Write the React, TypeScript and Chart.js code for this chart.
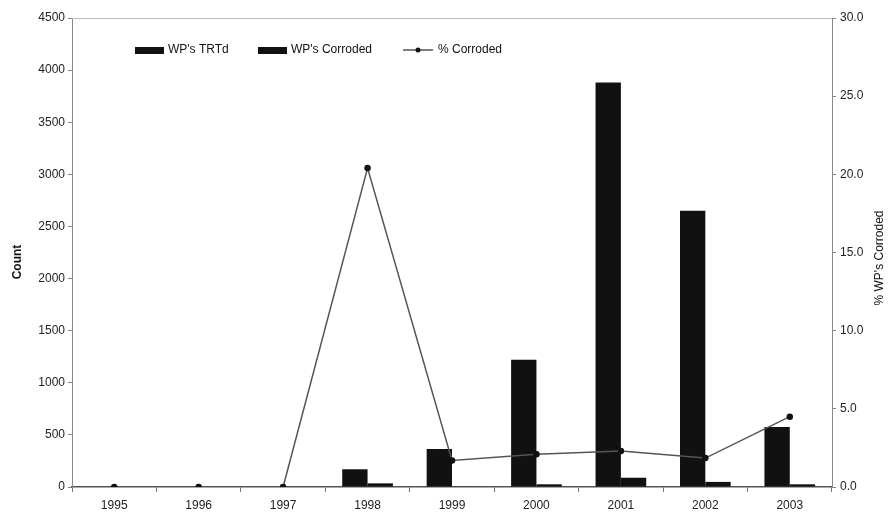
import React, { useEffect, useRef } from "react";
import { Chart, registerables } from "chart.js";

Chart.register(...registerables);

const years = ["1995", "1996", "1997", "1998", "1999", "2000", "2001", "2002", "2003"];
const wpTreated = [0, 0, 0, 170, 365, 1220, 3880, 2650, 575];
const wpCorroded = [0, 0, 0, 35, 6, 26, 89, 49, 26];
const pctCorroded = [0, 0, 0, 20.4, 1.7, 2.1, 2.3, 1.85, 4.5];

const FONT = "'Liberation Sans', Arial, sans-serif";

const overlayPlugin = {
  id: "overlay",
  afterDraw(chart: any) {
    const ctx = chart.ctx;
    const ca = chart.chartArea;
    ctx.save();
    // top border
    ctx.strokeStyle = "#bbb";
    ctx.lineWidth = 1;
    ctx.beginPath();
    ctx.moveTo(ca.left, ca.top + 0.5);
    ctx.lineTo(ca.right, ca.top + 0.5);
    ctx.stroke();

    // axis titles
    ctx.fillStyle = "#111";
    ctx.font = `bold 12px ${FONT}`;
    ctx.textAlign = "center";
    ctx.textBaseline = "middle";
    ctx.save();
    ctx.translate(18, 262);
    ctx.rotate(-Math.PI / 2);
    ctx.fillText("Count", 0, 0);
    ctx.restore();
    ctx.save();
    ctx.font = `12px ${FONT}`;
    ctx.translate(880, 258);
    ctx.rotate(-Math.PI / 2);
    ctx.fillText("% WP's Corroded", 0, 0);
    ctx.restore();

    // legend
    const ly = 50;
    ctx.font = `12px ${FONT}`;
    ctx.textAlign = "left";
    ctx.fillStyle = "#111";
    ctx.fillRect(135, ly - 3, 29, 7);
    ctx.fillText("WP's TRTd", 168, ly);
    ctx.fillRect(258, ly - 3, 29, 7);
    ctx.fillText("WP's Corroded", 291, ly);
    ctx.strokeStyle = "#555";
    ctx.lineWidth = 1.5;
    ctx.beginPath();
    ctx.moveTo(403, ly);
    ctx.lineTo(433, ly);
    ctx.stroke();
    ctx.beginPath();
    ctx.arc(418, ly, 2.5, 0, Math.PI * 2);
    ctx.fill();
    ctx.fillText("% Corroded", 438, ly);
    ctx.restore();
  },
};

export default function App() {
  const ref = useRef<HTMLCanvasElement>(null);
  useEffect(() => {
    if (!ref.current) return;
    const chart = new Chart(ref.current, {
      type: "bar",
      data: {
        labels: years,
        datasets: [
          {
            type: "line",
            label: "% Corroded",
            data: pctCorroded,
            yAxisID: "y1",
            borderColor: "#555",
            borderWidth: 1.5,
            pointBackgroundColor: "#111",
            pointBorderColor: "#111",
            pointRadius: 2.5,
            tension: 0,
            order: 0,
          } as any,
          {
            type: "bar",
            label: "WP's TRTd",
            data: wpTreated,
            yAxisID: "y",
            backgroundColor: "#111",
            categoryPercentage: 0.6,
            barPercentage: 1,
            order: 1,
          },
          {
            type: "bar",
            label: "WP's Corroded",
            data: wpCorroded,
            yAxisID: "y",
            backgroundColor: "#111",
            categoryPercentage: 0.6,
            barPercentage: 1,
            order: 1,
          },
        ],
      },
      options: {
        responsive: false,
        animation: false,
        layout: { padding: { top: 18, right: 0, left: 0, bottom: 0 } },
        plugins: { legend: { display: false }, tooltip: { enabled: false } },
        scales: {
          x: {
            offset: true,
            grid: {
              display: true,
              drawOnChartArea: false,
              offset: true,
              tickLength: 5,
              color: "#777",
            },
            border: { color: "#555", width: 1.5 },
            ticks: { color: "#222", font: { family: FONT, size: 12 }, padding: 6 },
            afterFit(scale: any) {
              scale.height = 33;
            },
          },
          y: {
            position: "left",
            min: 0,
            max: 4500,
            ticks: {
              stepSize: 500,
              color: "#222",
              font: { family: FONT, size: 12 },
              padding: 3,
              callback: (v: any) => String(v),
            },
            grid: { display: true, drawOnChartArea: false, tickLength: 4, color: "#888" },
            border: { color: "#888" },
            afterFit(scale: any) {
              scale.width = 72;
            },
          },
          y1: {
            position: "right",
            min: 0,
            max: 30,
            ticks: {
              stepSize: 5,
              color: "#222",
              font: { family: FONT, size: 12 },
              padding: 4,
              callback: (v: any) => Number(v).toFixed(1),
            },
            grid: { display: true, drawOnChartArea: false, tickLength: 4, color: "#888" },
            border: { color: "#888" },
            afterFit(scale: any) {
              scale.width = 57;
            },
          },
        },
      },
      plugins: [overlayPlugin],
    });
    return () => chart.destroy();
  }, []);
  return (
    <div style={{ position: "absolute", left: 0, top: 0, width: 889, height: 520, background: "#fff" }}>
      <canvas ref={ref} width={889} height={520} />
    </div>
  );
}
